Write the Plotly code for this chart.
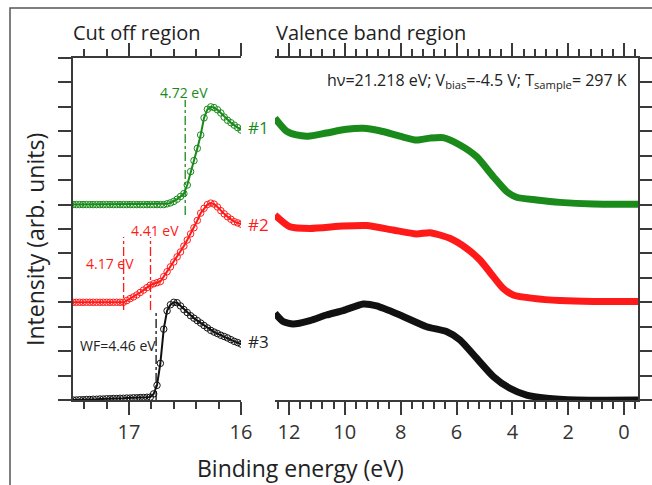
import plotly.graph_objects as go

# ---------------- data ----------------
# Cut-off region (binding energy, eV)
cut_energy = [17.50, 17.47, 17.44, 17.41, 17.38, 17.35, 17.32, 17.29, 17.26, 17.23,
              17.20, 17.17, 17.14, 17.11, 17.08, 17.05, 17.02, 16.99, 16.96, 16.93,
              16.90, 16.87, 16.84, 16.81, 16.78, 16.75, 16.72, 16.69, 16.66, 16.63,
              16.60, 16.57, 16.54, 16.51, 16.48, 16.45, 16.42, 16.39, 16.36, 16.33,
              16.30, 16.27, 16.24, 16.21, 16.18, 16.15, 16.12, 16.09, 16.06, 16.03, 16.00]
cut_s1 = [8.00] * 28 + [8.03, 8.07, 8.13, 8.22, 8.33, 8.45, 8.8, 9.35, 9.8, 10.3, 10.85,
                        11.55, 11.9, 12.0, 11.97, 11.88, 11.75, 11.58, 11.45, 11.35,
                        11.25, 11.15, 11.05]
cut_s2 = [4.00] * 16 + [4.07, 4.15, 4.22, 4.3, 4.4, 4.5, 4.6, 4.7, 4.76, 4.8, 4.85, 5.05,
                        5.25, 5.45, 5.65, 5.86, 6.06, 6.3, 6.55, 6.8, 7.05, 7.35, 7.65,
                        7.85, 8.0, 8.06, 8.02, 7.9, 7.75, 7.62, 7.5, 7.4, 7.3, 7.25, 7.2]
cut_s3 = [0.0, 0.0, 0.01, 0.01, 0.02, 0.02, 0.03, 0.03, 0.04, 0.04, 0.05, 0.05, 0.06,
          0.06, 0.07, 0.07, 0.08, 0.08, 0.09, 0.09, 0.1, 0.1, 0.11, 0.12, 0.25, 0.6, 1.5,
          2.9, 3.65, 3.9, 4.0, 3.98, 3.85, 3.7, 3.58, 3.45, 3.35, 3.25, 3.15, 3.05, 2.95,
          2.85, 2.78, 2.72, 2.65, 2.6, 2.54, 2.47, 2.4, 2.35, 2.29]

# Valence band region
vb_e1 = [12.5, 12.09, 11.73, 11.31, 10.66, 9.94, 9.34, 8.75, 8.03, 7.43, 6.95, 6.48,
         5.88, 5.28, 4.68, 4.20, 3.85, 3.13, 2.29, 1.10, -0.5]
vb_s1 = [11.54, 11.01, 10.85, 10.80, 10.93, 11.08, 11.12, 11.02, 10.80, 10.64, 10.72,
         10.74, 10.44, 9.96, 9.14, 8.53, 8.30, 8.19, 8.09, 8.02, 8.01]
vb_e2 = [12.5, 11.97, 11.25, 10.06, 9.22, 8.27, 7.43, 6.95, 6.24, 5.64, 5.16, 4.68,
         4.33, 3.97, 3.25, 2.29, 1.10, -0.5]
vb_s2 = [7.57, 7.09, 7.02, 7.12, 7.14, 6.96, 6.80, 6.85, 6.62, 6.21, 5.73, 5.05, 4.57,
         4.30, 4.16, 4.07, 4.03, 4.03]
vb_e3 = [12.5, 12.21, 11.85, 11.25, 10.66, 10.06, 9.34, 8.86, 8.03, 7.07, 6.36, 5.88,
         5.28, 4.68, 4.09, 3.49, 2.77, 1.70, -0.5]
vb_s3 = [3.55, 3.21, 3.11, 3.25, 3.48, 3.66, 3.93, 3.85, 3.48, 3.0, 2.80, 2.46, 1.71,
         0.96, 0.48, 0.2, 0.07, 0.0, 0.0]

# Work function markers (photon energy minus WF)
hv = 21.218
wf_values = [4.72, 4.41, 4.17, 4.46]
wf_ranges = [(7.57, 12.28), (3.68, 6.67), (3.68, 6.67), (0.0, 3.6)]
wf_colors = ["#1a8a1a", "#ff1a1a", "#ff1a1a", "#111111"]

colors = ["#1a8a1a", "#ff1a1a", "#111111"]
labels = ["#1", "#2", "#3"]

W, H = 652, 485
FONT = "Open Sans"
AX = "#3a3a3a"


def px(x):
    return x / W


def py(y):
    return 1 - y / H


fig = go.Figure()

for vals, c in zip([cut_s1, cut_s2, cut_s3], colors):
    fig.add_trace(go.Scatter(
        x=cut_energy, y=vals, mode="lines+markers", xaxis="x", yaxis="y",
        line=dict(color=c, width=2),
        marker=dict(symbol="circle-open", size=6.5, color=c, line=dict(width=1, color=c)),
        showlegend=False, hoverinfo="skip"))

for e, vals, c in zip([vb_e1, vb_e2, vb_e3], [vb_s1, vb_s2, vb_s3], colors):
    fig.add_trace(go.Scatter(
        x=e, y=vals, mode="lines", xaxis="x2", yaxis="y2",
        line=dict(color=c, width=7, shape="spline", smoothing=0.6),
        showlegend=False, hoverinfo="skip"))

for wf, (y0, y1), c in zip(wf_values, wf_ranges, wf_colors):
    fig.add_trace(go.Scatter(
        x=[hv - wf, hv - wf], y=[y0, y1], mode="lines", xaxis="x", yaxis="y",
        line=dict(color=c, width=1.3, dash="dashdot"),
        showlegend=False, hoverinfo="skip"))

ydom = [py(400), py(58)]
common_x = dict(showgrid=False, zeroline=False, showline=True, linecolor=AX, linewidth=1.5,
                ticks="outside", ticklen=13, tickwidth=1.5, tickcolor=AX, mirror="ticks",
                automargin=False,
                tickfont=dict(family=FONT, size=20, color="#333"))
common_y = dict(showgrid=False, zeroline=False, showline=True, linecolor=AX, linewidth=1.5,
                ticks="outside", ticklen=13, tickwidth=1.5, tickcolor=AX, automargin=False,
                range=[0, 14], tick0=0, dtick=1, showticklabels=False, domain=ydom)

fig.update_layout(
    width=W, height=H, autosize=False, margin=dict(l=0, r=0, t=0, b=0, pad=0),
    paper_bgcolor="white", plot_bgcolor="white",
    xaxis=dict(domain=[px(73), px(241)], range=[17.5, 16.0], anchor="y",
               tick0=16, dtick=1,
               minor=dict(tick0=16, dtick=0.2, ticks="outside", ticklen=7,
                          tickwidth=1.5, tickcolor=AX), **common_x),
    yaxis=dict(anchor="x", side="left", **common_y),
    xaxis2=dict(domain=[px(275), px(638)], range=[12.5, -0.5], anchor="y2",
                tick0=0, dtick=2,
                minor=dict(tick0=0, dtick=0.4, ticks="outside", ticklen=7,
                           tickwidth=1.5, tickcolor=AX), **common_x),
    yaxis2=dict(anchor="x2", side="right", **common_y),
)

annots = [
    dict(text="Cut off region", x=px(71), y=py(33), xanchor="left", size=20, color="#222"),
    dict(text="Valence band region", x=px(274), y=py(33), xanchor="left", size=20, color="#222"),
    dict(text="hν=21.218 eV; V<sub>bias</sub>=-4.5 V; T<sub>sample</sub>= 297 K",
         x=px(629), y=py(81), xanchor="right", size=16, color="#222"),
    dict(text="Binding energy (eV)", x=px(300), y=py(468), xanchor="center", size=23, color="#222"),
    dict(text="#1", x=px(246), y=py(128), xanchor="left", size=17, color=colors[0]),
    dict(text="#2", x=px(246), y=py(224), xanchor="left", size=17, color=colors[1]),
    dict(text="#3", x=px(246), y=py(341), xanchor="left", size=17, color="#222"),
    dict(text="4.72 eV", x=px(184), y=py(92), xanchor="center", size=14, color=colors[0]),
    dict(text="4.41 eV", x=px(155), y=py(230), xanchor="center", size=14, color=colors[1]),
    dict(text="4.17 eV", x=px(110), y=py(263), xanchor="center", size=14, color=colors[1]),
    dict(text="WF=4.46 eV", x=px(118), y=py(345), xanchor="center", size=14, color="#222"),
]
for a in annots:
    fig.add_annotation(text=a["text"], x=a["x"], y=a["y"], xref="paper", yref="paper",
                       xanchor=a["xanchor"], yanchor="middle", showarrow=False,
                       font=dict(family=FONT, size=a["size"], color=a["color"]))

fig.add_annotation(text="Intensity (arb. units)", x=px(35), y=py(240), xref="paper",
                   yref="paper", xanchor="center", yanchor="middle", textangle=-90,
                   showarrow=False, font=dict(family=FONT, size=23, color="#222"))

# outer frame
fig.add_shape(type="rect", xref="paper", yref="paper", x0=px(10), y0=-0.1, x1=1.1, y1=py(8),
              line=dict(color="#555", width=1.5), fillcolor="rgba(0,0,0,0)")

fig.write_html("out.html", config={"responsive": False})
